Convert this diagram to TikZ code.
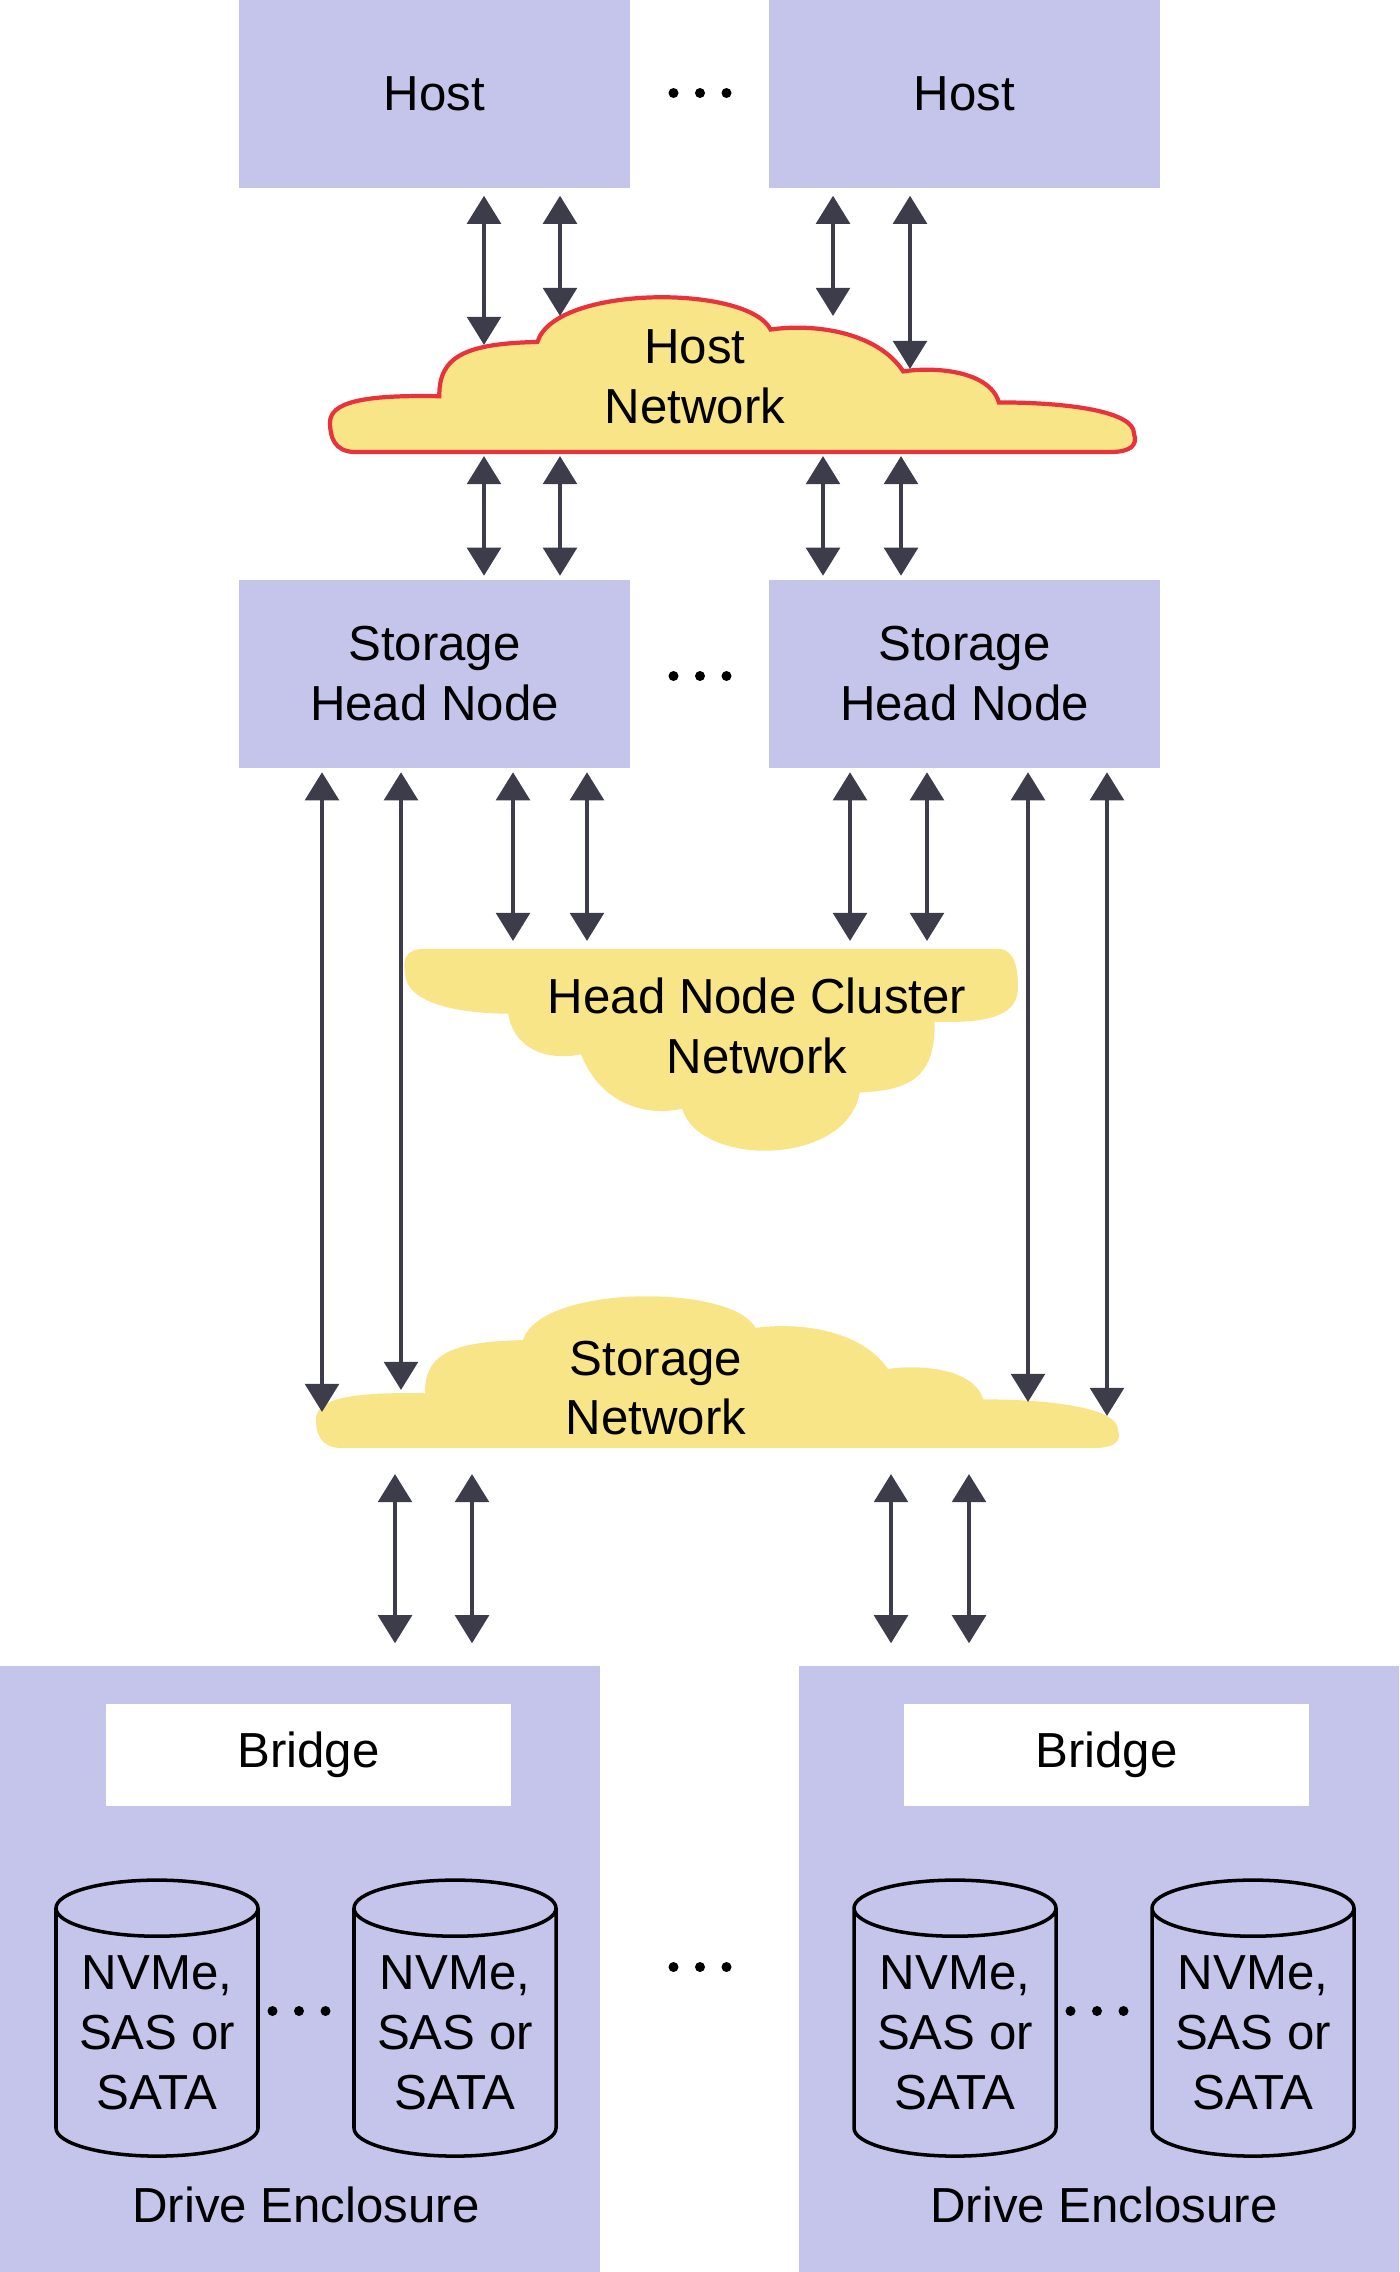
\documentclass[tikz,border=0pt]{standalone}
\usepackage{fontspec}
\setmainfont{Liberation Sans}
\usetikzlibrary{arrows.meta,shapes.geometric,positioning}
\definecolor{boxlav}{HTML}{C5C5EB}
\definecolor{cloudyel}{HTML}{F8E588}
\definecolor{cloudred}{HTML}{E8333C}
\definecolor{linkgray}{HTML}{3C3C4A}
\tikzset{
  pics/netcloud/.style={code={
    \path[pic actions] (3,100) .. controls (0.5,99.5) and (0,90) .. (0,81)
      .. controls (0,68) and (4,63) .. (13.6,64)
      .. controls (13.5,38) and (17,30) .. (25.8,29)
      .. controls (28,-8) and (52,-8) .. (54.8,21)
      .. controls (60,17) and (68,22) .. (71.3,48)
      .. controls (75,45) and (82,47) .. (83.2,68)
      .. controls (92,68) and (100,74) .. (100,88)
      .. controls (100.5,96) and (99.5,100) .. (97,100) -- cycle;
  }}
}
\begin{document}
\begin{tikzpicture}[every node/.style={font=\fontsize{14}{17}\selectfont},
    box/.style={fill=boxlav, minimum width=3.91cm, minimum height=1.88cm, align=center},
    encl/.style={fill=boxlav, minimum width=6cm, minimum height=6.06cm},
    bridge/.style={fill=white, minimum width=4.05cm, minimum height=1.02cm},
    drive/.style={cylinder, shape border rotate=90, aspect=0.36, draw, line width=1pt,
        fill=boxlav, minimum width=2.02cm, minimum height=2.76cm, align=center, inner sep=0pt},
    nettext/.style={align=center},
    link/.style={draw=linkgray, line width=1.3pt,
        {Triangle[width=9.5pt,length=8pt]}-{Triangle[width=9.5pt,length=8pt]}}]
\useasboundingbox (0,0) rectangle (13.99,-22.72);
% --- host ---
\node[box] (h1) at (4.345,-0.94) {Host};
\node[box] (h2) at (9.645,-0.94) {Host};
\coordinate (hd) at (7.00,-0.93);
% --- host network ---
\pic[fill=cloudyel, draw=cloudred, line width=1.2pt, x=0.0804cm, y=-0.0155cm] at (3.30cm,-2.97cm) {netcloud};
\node[nettext] (hn) at (6.95,-3.77) {Host\\Network};
\coordinate (hn1) at (4.84,-3.45);
\coordinate (hn2) at (5.60,-3.16);
\coordinate (hn3) at (8.33,-3.16);
\coordinate (hn4) at (9.10,-3.69);
\coordinate (hn5) at (4.84,-4.56);
\coordinate (hn6) at (5.60,-4.56);
\coordinate (hn7) at (8.23,-4.56);
\coordinate (hn8) at (9.01,-4.56);
\draw[link, shorten <=0.07cm] (h1.south -| hn1) -- (hn1);
\draw[link, shorten <=0.07cm] (h1.south -| hn2) -- (hn2);
\draw[link, shorten <=0.07cm] (h2.south -| hn3) -- (hn3);
\draw[link, shorten <=0.07cm] (h2.south -| hn4) -- (hn4);
% --- storage head nodes ---
\node[box] (s1) at (4.345,-6.735) {Storage\\Head Node};
\node[box] (s2) at (9.645,-6.735) {Storage\\Head Node};
\coordinate (sd) at (7.00,-6.76);
\draw[link, shorten >=0.03cm] (hn5) -- (s1.north -| hn5);
\draw[link, shorten >=0.03cm] (hn6) -- (s1.north -| hn6);
\draw[link, shorten >=0.03cm] (hn7) -- (s2.north -| hn7);
\draw[link, shorten >=0.03cm] (hn8) -- (s2.north -| hn8);
% --- head node cluster network ---
\pic[fill=cloudyel, x=-0.0613cm, y=0.0202cm] at (10.18cm,-11.51cm) {netcloud};
\node[nettext] (cn) at (7.57,-10.26) {Head Node Cluster\\Network};
\coordinate (cn1) at (5.13,-9.41);
\coordinate (cn2) at (5.87,-9.41);
\coordinate (cn3) at (8.50,-9.41);
\coordinate (cn4) at (9.27,-9.41);
\draw[link, shorten <=0.04cm] (s1.south -| cn1) -- (cn1);
\draw[link, shorten <=0.04cm] (s1.south -| cn2) -- (cn2);
\draw[link, shorten <=0.04cm] (s2.south -| cn3) -- (cn3);
\draw[link, shorten <=0.04cm] (s2.south -| cn4) -- (cn4);
% --- storage network ---
\pic[fill=cloudyel, x=0.0802cm, y=-0.0152cm] at (3.16cm,-12.96cm) {netcloud};
\node[nettext] (sn) at (6.56,-13.88) {Storage\\Network};
\coordinate (sn1) at (3.22,-14.12);
\coordinate (sn2) at (4.01,-13.90);
\coordinate (sn3) at (10.28,-14.02);
\coordinate (sn4) at (11.07,-14.16);
\coordinate (sn5) at (3.95,-14.74);
\coordinate (sn6) at (4.72,-14.74);
\coordinate (sn7) at (8.91,-14.74);
\coordinate (sn8) at (9.69,-14.74);
\draw[link, shorten <=0.04cm] (s1.south -| sn1) -- (sn1);
\draw[link, shorten <=0.04cm] (s1.south -| sn2) -- (sn2);
\draw[link, shorten <=0.04cm] (s2.south -| sn3) -- (sn3);
\draw[link, shorten <=0.04cm] (s2.south -| sn4) -- (sn4);
% --- drive enclosures ---
\node[encl] (e1) at (3.00,-19.69) {};
\node[encl] (e2) at (10.985,-19.69) {};
\coordinate (ed) at (7.00,-19.67);
\draw[link, shorten >=0.22cm] (sn5) -- (e1.north -| sn5);
\draw[link, shorten >=0.22cm] (sn6) -- (e1.north -| sn6);
\draw[link, shorten >=0.22cm] (sn7) -- (e2.north -| sn7);
\draw[link, shorten >=0.22cm] (sn8) -- (e2.north -| sn8);
\node[bridge] (b1) at (3.085,-17.55) {Bridge};
\node[bridge] (b2) at (11.065,-17.55) {Bridge};
\node[drive] (d11) at (1.57,-20.33) {NVMe,\\SAS or\\SATA};
\node[drive] (d12) at (4.55,-20.33) {NVMe,\\SAS or\\SATA};
\coordinate (dd1) at (2.99,-20.11);
\node[drive] (d21) at (9.55,-20.33) {NVMe,\\SAS or\\SATA};
\node[drive] (d22) at (12.53,-20.33) {NVMe,\\SAS or\\SATA};
\coordinate (dd2) at (10.97,-20.11);
\node (l1) at (3.06,-22.05) {Drive Enclosure};
\node (l2) at (11.04,-22.05) {Drive Enclosure};
% --- dots ---
\foreach \c in {hd,sd,ed,dd1,dd2}
    \foreach \k in {-1,0,1}
        \fill ([xshift=\k*0.265cm]\c) circle (0.05cm);
\end{tikzpicture}
\end{document}
